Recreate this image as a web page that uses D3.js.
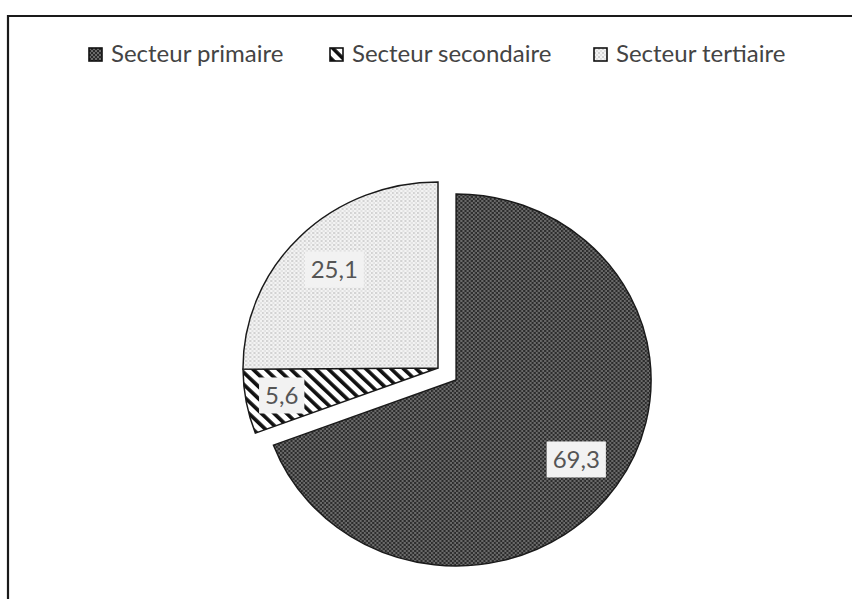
<!DOCTYPE html>
<html>
<head>
<meta charset="utf-8">
<script src="https://cdn.jsdelivr.net/npm/d3@7"></script>
<style>
  body { margin: 0; background: #fff; }
  svg text { font-family: Lato, "Open Sans", sans-serif; }
</style>
</head>
<body>
<svg id="chart" width="852" height="599"></svg>
<script>
// secteurs d'activite (%)
var categories = ['Secteur primaire', 'Secteur secondaire', 'Secteur tertiaire']
var values = [69.3, 5.6, 25.1]
var labels = ['69,3', '5,6', '25,1']
var patterns = ['pat-primaire', 'pat-secondaire', 'pat-tertiaire']

var svg = d3.select('#chart')
var width = 852, height = 599

var defs = svg.append('defs')

// dark checker for the primary sector
var p1 = defs.append('pattern').attr('id', 'pat-primaire')
    .attr('patternUnits', 'userSpaceOnUse').attr('width', 4).attr('height', 4)
p1.append('rect').attr('width', 4).attr('height', 4).attr('fill', '#2b2b2b')
p1.append('rect').attr('x', 0).attr('y', 0).attr('width', 2).attr('height', 2).attr('fill', '#6b6b6b')
p1.append('rect').attr('x', 2).attr('y', 2).attr('width', 2).attr('height', 2).attr('fill', '#6b6b6b')

// diagonal hatching for the secondary sector
var p2 = defs.append('pattern').attr('id', 'pat-secondaire')
    .attr('patternUnits', 'userSpaceOnUse').attr('width', 8.5).attr('height', 8.5)
    .attr('patternTransform', 'rotate(-45)')
p2.append('rect').attr('width', 8.5).attr('height', 8.5).attr('fill', '#fff')
p2.append('rect').attr('x', 0).attr('y', 0).attr('width', 3.6).attr('height', 8.5).attr('fill', '#111')

// light dots for the tertiary sector
var p3 = defs.append('pattern').attr('id', 'pat-tertiaire')
    .attr('patternUnits', 'userSpaceOnUse').attr('width', 4).attr('height', 4)
p3.append('rect').attr('width', 4).attr('height', 4).attr('fill', '#f4f4f4')
p3.append('rect').attr('x', 0).attr('y', 0).attr('width', 2).attr('height', 2).attr('fill', '#d2d2d2')
p3.append('rect').attr('x', 2).attr('y', 2).attr('width', 2).attr('height', 2).attr('fill', '#e2e2e2')

// frame (only top and left visible in the scan)
svg.append('path')
    .attr('d', 'M8,' + height + 'V16H' + width)
    .attr('fill', 'none').attr('stroke', '#1a1a1a').attr('stroke-width', 2.2)

// legend
var legendX = [89, 330, 594]
var legend = svg.append('g').attr('class', 'legend')
    .selectAll('g').data(categories).enter().append('g')
    .attr('transform', function (d, i) { return 'translate(' + legendX[i] + ',48)' })
legend.append('rect')
    .attr('width', 13).attr('height', 13)
    .attr('fill', function (d, i) { return 'url(#' + patterns[i] + ')' })
    .attr('stroke', '#111').attr('stroke-width', 1.6)
legend.append('text')
    .attr('x', 22).attr('y', 14)
    .attr('font-size', 24)
    .attr('fill', '#444')
    .text(function (d) { return d })

// pie
var R = 186
var sx = 195 / 186
var cx = 438, cy = 368
var explode = 21

var pie = d3.pie().sort(null).value(function (d) { return d })
var arcs = pie(values)
var arc = d3.arc().innerRadius(0).outerRadius(R)

var g = svg.append('g')
    .attr('transform', 'translate(' + cx + ',' + cy + ') scale(' + sx + ',1)')

function offset(d) {
    // only the primary sector is pulled out
    if (d.index !== 0) return [0, 0]
    var a = (d.startAngle + d.endAngle) / 2
    return [Math.sin(a) * explode, -Math.cos(a) * explode]
}

g.selectAll('path.slice').data(arcs).enter().append('path')
    .attr('class', 'slice')
    .attr('transform', function (d) { var o = offset(d); return 'translate(' + o[0] + ',' + o[1] + ')' })
    .attr('d', arc)
    .attr('fill', function (d, i) { return 'url(#' + patterns[i] + ')' })
    .attr('stroke', '#1a1a1a').attr('stroke-width', 1.4)
    .attr('stroke-linejoin', 'miter')

// data labels
var lab = svg.append('g').selectAll('g').data(arcs).enter().append('g')
    .attr('transform', function (d) {
        var o = offset(d)
        var a = (d.startAngle + d.endAngle) / 2
        var k = (d.endAngle - d.startAngle) < 0.5 ? 0.815 : 0.75
        var x = cx + (o[0] + Math.sin(a) * R * k) * sx
        var y = cy + o[1] - Math.cos(a) * R * k
        return 'translate(' + x + ',' + y + ')'
    })
lab.append('rect').attr('fill', '#f2f2f2')
lab.append('text')
    .attr('text-anchor', 'middle')
    .attr('dy', '0.35em')
    .attr('font-size', 24)
    .attr('fill', '#555')
    .text(function (d, i) { return labels[i] })
lab.each(function () {
    var t = d3.select(this).select('text').node()
    var w = t.getComputedTextLength() + 12
    var h = 36
    d3.select(this).select('rect')
        .attr('x', -w / 2).attr('y', -h / 2).attr('width', w).attr('height', h)
})
</script>
</body>
</html>
